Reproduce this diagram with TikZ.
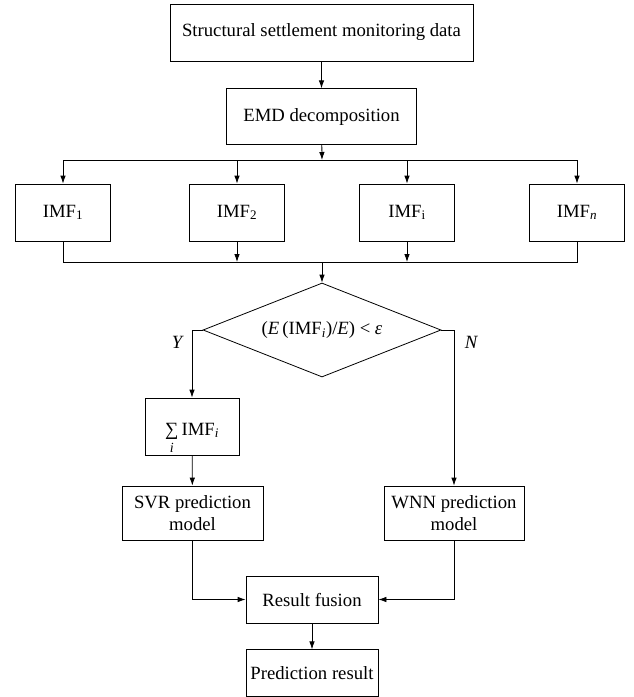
\documentclass[tikz,border=0pt]{standalone}
\usepackage{fontspec}
\setmainfont{Liberation Serif}
\usepackage{amsmath}
\usetikzlibrary{arrows.meta, positioning, shapes.geometric}

\begin{document}
\begin{tikzpicture}[x=1pt, y=-1pt,
    font=\fontsize{18.7}{22}\selectfont,
    line width=0.8pt,
    box/.style = {draw, inner sep=0pt, align=center},
    imfbox/.style = {box, minimum width=95pt, minimum height=57pt},
    decision/.style = {draw, diamond, inner sep=0pt, aspect=2.5, minimum width=238pt, minimum height=94pt},
    arr/.style = {-{Latex[length=8pt, width=5.5pt]}}]
    \useasboundingbox (0,0) rectangle (633,697);

    \node[box, minimum width=303pt, minimum height=57pt] (data) at (321.5,32.5) {Structural settlement monitoring data};
    \node[box, minimum width=190pt, minimum height=56pt] (emd) [below=27pt of data] {EMD decomposition};

    \coordinate (split) at (322,160);
    \node[imfbox] (imf1) at (63,212.5) {IMF\textsubscript{1}};
    \node[imfbox] (imf2) at (237,212.5) {IMF\textsubscript{2}};
    \node[imfbox] (imfi) at (407,212.5) {IMF\textsubscript{i}};
    \node[imfbox] (imfn) at (577,212.5) {IMF\textsubscript{\textit{n}}};
    \coordinate (merge) at (322,262);

    \node[decision] (dec) at (322,330) {(\textit{E}\,(IMF\textsubscript{\textit{i}})/\textit{E}) < \textit{ε}};

    \node[box, minimum width=94pt, minimum height=57pt, text height=17pt, text depth=0pt] (sum) at (192,426.5)
        {\begin{tabular}[t]{@{}c@{}}∑\\[-5pt]\fontsize{14}{14}\selectfont\textit{i}\end{tabular}\,IMF\textsubscript{\textit{i}}};
    \node[box, minimum width=141pt, minimum height=54pt] (svr) at (192.5,513) {SVR prediction\\model};
    \node[box, minimum width=140pt, minimum height=54pt] (wnn) at (454,513) {WNN prediction\\model};
    \node[box, minimum width=132pt, minimum height=47pt] (fusion) at (312,599.5) {Result fusion};
    \node[box, minimum width=132pt, minimum height=47pt] (result) [below=26pt of fusion] {Prediction result};

    % decomposition
    \draw[arr] (data) -- (emd);
    \draw[arr] (emd) -- (split);
    \draw (imf1 |- split) -- (imfn |- split);
    \foreach \m in {imf1, imf2, imfi, imfn}
        \draw[arr] (\m |- split) -- (\m);

    % collect the IMFs
    \draw (imf1) -- (imf1 |- merge) -- (imfn |- merge) -- (imfn);
    \draw[arr] (imf2) -- (imf2 |- merge);
    \draw[arr] (imfi) -- (imfi |- merge);
    \draw[arr] (merge) -- (dec);

    % Y / N branches
    \draw[arr] (dec.west) -- (dec.west -| sum) -- (sum);
    \draw[arr] (dec.east) -- (dec.east -| wnn) -- (wnn);
    \node[font=\fontsize{18.7}{22}\selectfont\itshape] (yes) at (177,342) {Y};
    \node[font=\fontsize{18.7}{22}\selectfont\itshape] (no) at (471,342) {N};

    \draw[arr] (sum) -- (svr);
    \draw[arr] (svr) |- (fusion);
    \draw[arr] (wnn) |- (fusion);
    \draw[arr] (fusion) -- (result);
\end{tikzpicture}
\end{document}
